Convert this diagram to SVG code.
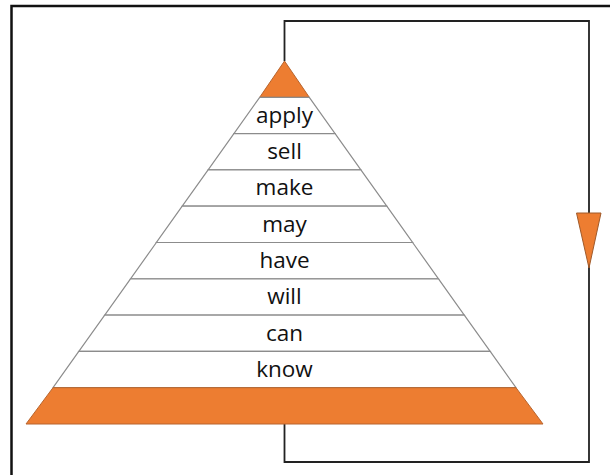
<svg xmlns="http://www.w3.org/2000/svg" width="610" height="475" viewBox="0 0 610 475">
  <style>
    .band { fill: #ffffff; stroke: #8c8c8c; stroke-width: 1.2; }
    .cap { fill: #ed7d31; stroke: #b8652e; stroke-width: 1; }
    .label { font-family: "Open Sans", "Liberation Sans", sans-serif; font-size: 22.5px; fill: #111111; text-anchor: middle; }
    .link { fill: none; stroke: #222222; stroke-width: 1.8; }
  </style>
  <rect width="610" height="475" fill="#ffffff"/>
  <!-- outer frame -->
  <path d="M11.5 475 V6 H610" fill="none" stroke="#111111" stroke-width="2.5"/>

  <!-- loop connector from base back to apex -->
  <g id="connectors">
    <path class="link" d="M284.5 424 V462 H589 V21 H284.5 V61"/>
    <polygon points="576.5,213 601,213 589,268" fill="#ed7d31" stroke="#a05a2a" stroke-width="1"/>
  </g>

  <!-- pyramid levels: apex (284.5,61), base y=424, 36.3px per level -->
  <g id="level-top"><polygon class="cap" points="284.5,61 259.7,97.3 309.3,97.3"/></g>
  <g id="level-apply"><polygon class="band" points="259.7,97.3 309.3,97.3 335.1,133.6 233.9,133.6"/><text class="label" x="284.5" y="122.5">apply</text></g>
  <g id="level-sell"><polygon class="band" points="233.9,133.6 335.1,133.6 360.9,169.9 208.1,169.9"/><text class="label" x="284.5" y="158.5">sell</text></g>
  <g id="level-make"><polygon class="band" points="208.1,169.9 360.9,169.9 386.8,206.2 182.2,206.2"/><text class="label" x="284.5" y="194.5">make</text></g>
  <g id="level-may"><polygon class="band" points="182.2,206.2 386.8,206.2 412.6,242.5 156.4,242.5"/><text class="label" x="284.5" y="231.5">may</text></g>
  <g id="level-have"><polygon class="band" points="156.4,242.5 412.6,242.5 438.5,278.8 130.5,278.8"/><text class="label" x="284.5" y="267.5">have</text></g>
  <g id="level-will"><polygon class="band" points="130.5,278.8 438.5,278.8 464.3,315.1 104.7,315.1"/><text class="label" x="284.5" y="303.5">will</text></g>
  <g id="level-can"><polygon class="band" points="104.7,315.1 464.3,315.1 490.2,351.4 78.8,351.4"/><text class="label" x="284.5" y="340.5">can</text></g>
  <g id="level-know"><polygon class="band" points="78.8,351.4 490.2,351.4 516,387.7 53,387.7"/><text class="label" x="284.5" y="376.5">know</text></g>
  <g id="level-base"><polygon class="cap" points="53,387.7 516,387.7 543,424 26,424"/></g>
</svg>
